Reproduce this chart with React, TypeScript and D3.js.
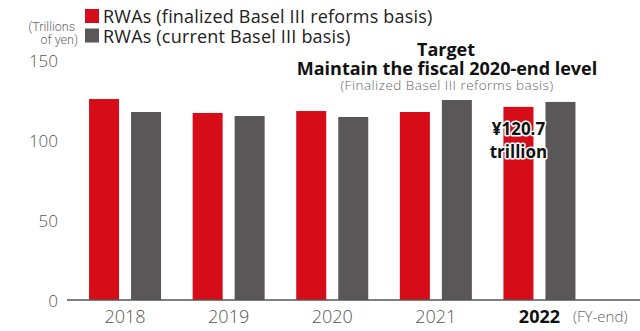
import React from "react";
import * as d3 from "d3";

const years = ["2018", "2019", "2020", "2021", "2022"];
const finalized = [125.6, 116.9, 118.1, 117.5, 120.7];
const current = [117.5, 115.0, 114.4, 125.0, 123.8];
const yTicks = [0, 50, 100, 150];
const seriesKeys = ["finalized", "current"];
const seriesLabels = [
  "RWAs (finalized Basel III reforms basis)",
  "RWAs (current Basel III basis)",
];
const seriesColors = ["#d70c19", "#595757"];

export default function App() {
  const W = 640;
  const H = 331;
  const x = d3
    .scaleBand<string>()
    .domain(years)
    .range([73.5, 591])
    .paddingInner(0.305)
    .paddingOuter(0.15);
  const xs = d3
    .scaleBand<string>()
    .domain(seriesKeys)
    .range([0, x.bandwidth()])
    .paddingInner(0.2857)
    .paddingOuter(0);
  const y = d3.scaleLinear().domain([0, 150]).range([300, 60]);
  const values = [finalized, current];
  const font = "'Open Sans', 'Noto Sans', sans-serif";

  return (
    <svg
      width={W}
      height={H}
      style={{ position: "absolute", left: 0, top: 0, background: "#fff" }}
      fontFamily={font}
    >
      {/* unit label */}
      <text x={75} y={31} textAnchor="end" fontSize={12.5} fill="#666" fontFamily="Roboto, sans-serif" fontWeight={300}>
        (Trillions
      </text>
      <text x={78} y={44} textAnchor="end" fontSize={12.5} fill="#666" fontFamily="Roboto, sans-serif" fontWeight={300}>
        of yen)
      </text>

      {/* legend */}
      {seriesLabels.map((lab, i) => (
        <g key={lab}>
          <rect x={85} y={9 + i * 19.5} width={14} height={14} fill={seriesColors[i]} />
          <text x={103} y={23 + i * 19.5} fontSize={18} letterSpacing={0.2} fill="#222">
            {lab}
          </text>
        </g>
      ))}

      {/* y tick labels */}
      {yTicks.map((t) => (
        <text
          key={t}
          x={58}
          y={y(t)}
          textAnchor="end"
          dominantBaseline="central"
          fontSize={17}
          fontWeight={300}
          fill="#555"
        >
          {t}
        </text>
      ))}

      {/* bars */}
      {years.map((yr, gi) => (
        <g key={yr} transform={`translate(${x(yr)},0)`}>
          {seriesKeys.map((k, si) => (
            <rect
              key={k}
              x={xs(k)}
              y={y(values[si][gi])}
              width={xs.bandwidth()}
              height={y(0) - y(values[si][gi])}
              fill={seriesColors[si]}
            />
          ))}
        </g>
      ))}

      {/* axis line */}
      <line x1={67} x2={640} y1={y(0)} y2={y(0)} stroke="#555" strokeWidth={1.5} />

      {/* x labels */}
      {years.map((yr, i) => (
        <text
          key={yr}
          x={(x(yr) as number) + x.bandwidth() / 2}
          y={323}
          textAnchor="middle"
          fontSize={18}
          fontWeight={i === years.length - 1 ? 700 : 300}
          fill={i === years.length - 1 ? "#111" : "#555"}
        >
          {yr}
        </text>
      ))}
      <text x={573} y={322} fontSize={15} fill="#666" fontWeight={300}>
        (FY-end)
      </text>

      {/* target annotation */}
      <text x={446} y={56} textAnchor="middle" fontSize={18} fontWeight={700} fill="#111">
        Target
      </text>
      <text x={447} y={75} textAnchor="middle" fontSize={18} fontWeight={700} fill="#111">
        Maintain the fiscal 2020-end level
      </text>
      <text x={447} y={90} textAnchor="middle" fontSize={13.5} letterSpacing={0.5} fontWeight={300} fill="#666">
        (Finalized Basel III reforms basis)
      </text>

      {/* value label */}
      {["¥120.7", "trillion"].map((t, i) => (
        <text
          key={t}
          x={(x("2022") as number) + (xs("finalized") as number) + xs.bandwidth() / 2}
          y={135 + i * 23}
          textAnchor="middle"
          fontSize={17}
          fontWeight={700}
          fill="#111"
          stroke="#fff"
          strokeWidth={3}
          paintOrder="stroke"
          strokeLinejoin="round"
        >
          {t}
        </text>
      ))}
    </svg>
  );
}
